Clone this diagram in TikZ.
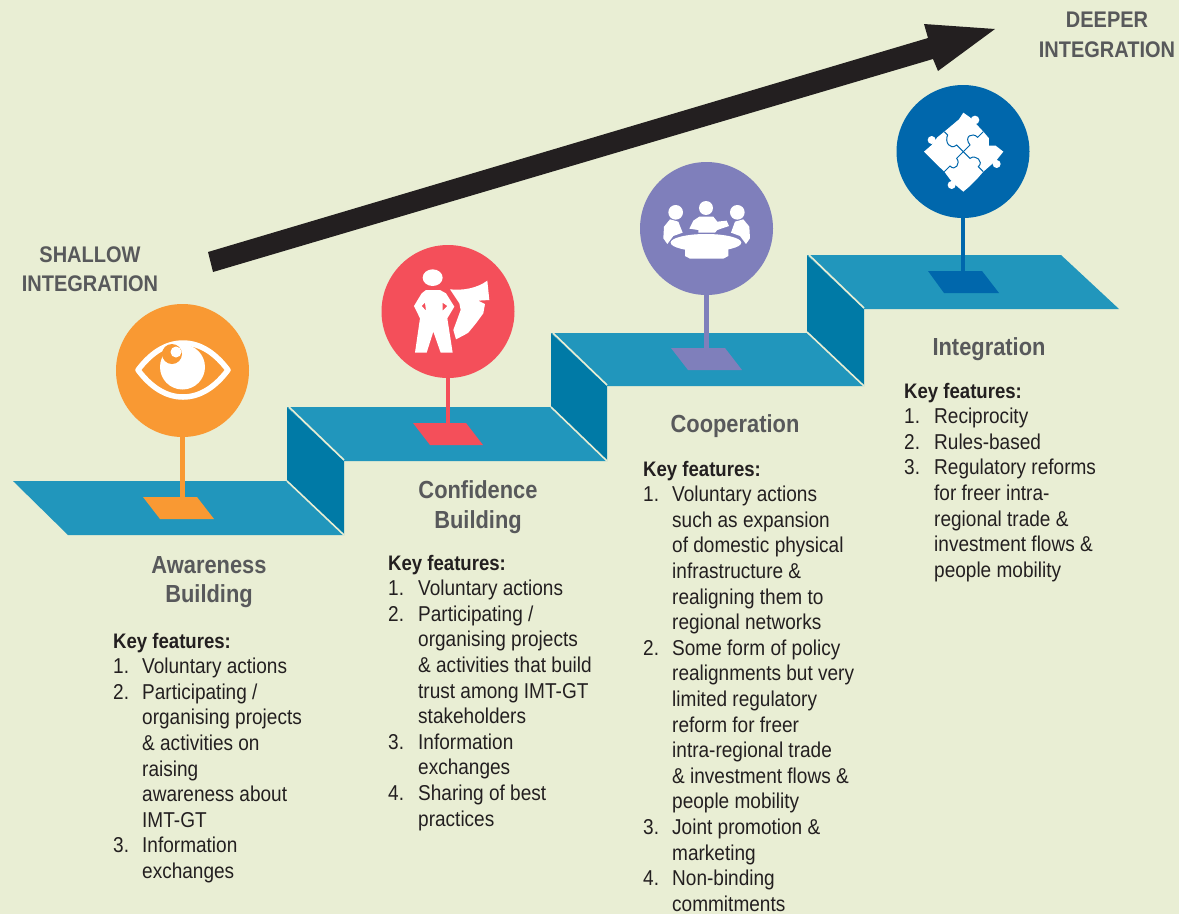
\documentclass[tikz,border=0pt]{standalone}
\usepackage{fontspec}
\setmainfont[FakeStretch=0.885]{Liberation Sans}
\usepackage{tikz}
\usetikzlibrary{calc}

\definecolor{paper}{RGB}{233,238,212}
\definecolor{topteal}{RGB}{33,150,188}
\definecolor{sideteal}{RGB}{0,122,166}
\definecolor{awareorange}{RGB}{249,153,51}
\definecolor{confidred}{RGB}{244,79,90}
\definecolor{cooppurple}{RGB}{127,127,187}
\definecolor{integblue}{RGB}{0,103,172}
\definecolor{headgrey}{RGB}{88,89,91}
\definecolor{bodyblack}{RGB}{35,31,32}

\newcommand{\bodyfont}{\fontsize{21.5}{25.6}\selectfont}
\newcommand{\headfont}{\fontsize{24.7}{29.5}\selectfont\bfseries}
\newcommand{\capsfont}{\fontsize{22.6}{29.5}\selectfont\bfseries}
\newcommand{\keyhead}{\fontsize{21}{25.6}\selectfont\bfseries Key features:}

\tikzset{
    platform/.style={fill=topteal},
    riser/.style={fill=sideteal},
    foldline/.style={draw=paper, line width=1.6pt},
    pincircle/.style={circle, minimum size=133pt, inner sep=0pt},
    pinstem/.style={line width=4.6pt},
    iconwhite/.style={fill=white},
    stagetitle/.style={font=\headfont, text=headgrey, align=center, inner sep=0pt},
    endtitle/.style={font=\capsfont, text=headgrey, align=center, inner sep=0pt},
    featurelist/.style={anchor=north west, font=\bodyfont, text=bodyblack, inner sep=0pt}
}

\begin{document}
\begin{tikzpicture}[x=1pt, y=-1pt]

    %% Background
    \fill [paper] (0,0) rectangle (1179,914);
    \useasboundingbox (0,0) rectangle (1179,914);

    %% Arrow
    \fill [bodyblack] (208,252) -- (928,38) -- (924,24) -- (995,29) -- (938,71) -- (933,59) -- (213,272) -- cycle;

    %% Steps
    \fill [riser] (287,407) -- (344,461) -- (344,535) -- (287,481) -- cycle;
    \fill [riser] (551,333) -- (607,386) -- (607,461) -- (551,407) -- cycle;
    \fill [riser] (807,255) -- (864,309) -- (864,386) -- (807,332) -- cycle;
    \fill [platform] (13,481) -- (287,481) -- (344,535) -- (68,535) -- cycle;
    \fill [platform] (287,407) -- (551,407) -- (607,461) -- (344,461) -- cycle;
    \fill [platform] (551,333) -- (807,333) -- (864,386) -- (607,386) -- cycle;
    \fill [platform] (807,255) -- (1061,255) -- (1119,309) -- (864,309) -- cycle;
    \draw [foldline] (287,481) -- (344,535);
    \draw [foldline] (289,407) -- (344,460);
    \draw [foldline] (551,407) -- (607,461);
    \draw [foldline] (553,333) -- (607,385);
    \draw [foldline] (807,332) -- (864,386);
    \draw [foldline] (809,255) -- (864,308);

    %% Pads
    \fill [awareorange] (143,497) -- (197,497) -- (214,519) -- (160,519) -- cycle;
    \fill [confidred] (413,423) -- (466,423) -- (483,445) -- (430,445) -- cycle;
    \fill [cooppurple] (671,348) -- (725,348) -- (742,370) -- (688,370) -- cycle;
    \fill [integblue] (928,271) -- (982,271) -- (999,293) -- (944,293) -- cycle;

    %% Circles
    \node (awareness) [pincircle, fill=awareorange] at (182.5,370.5) {};
    \node (confidence) [pincircle, fill=confidred] at (448,311.5) {};
    \node (cooperation) [pincircle, fill=cooppurple] at (706.5,228.5) {};
    \node (integration) [pincircle, fill=integblue] at (963,151.5) {};

    %% Pins
    \coordinate (awarenessfoot) at (182.5,498);
    \coordinate (confidencefoot) at (448,424);
    \coordinate (cooperationfoot) at (706.5,349);
    \coordinate (integrationfoot) at (963,272);
    \draw [pinstem, awareorange] (awareness) -- (awarenessfoot);
    \draw [pinstem, confidred] (confidence) -- (confidencefoot);
    \draw [pinstem, cooppurple] (cooperation) -- (cooperationfoot);
    \draw [pinstem, integblue] (integration) -- (integrationfoot);

    %% Eye
    \draw [white, line width=5.5pt, line join=round] (138,370) .. controls (150,354) and (165,343) .. (183,343) .. controls (201,343) and (216,354) .. (228,370) .. controls (216,386) and (201,397) .. (183,397) .. controls (165,397) and (150,386) .. (138,370) -- cycle;
    \fill [white] (182.5,367) circle (22.5);
    \fill [awareorange] (172,354) circle (10);
    \fill [awareorange] (168,345.5) rectangle (178,349);
    \fill [white] (176,352) circle (5.5);

    %% Hero
    \begin{scope}[shift={(370,260)}, scale=0.3333]
        \fill [iconwhite] (188,53) ellipse (30 and 25);
        \fill [iconwhite, even odd rule] (168,90) -- (210,90) -- (228,100) -- (253,140) -- (232,175) -- (248,278) -- (212,278) -- (190,215) -- (170,278) -- (135,278) -- (150,175) -- (132,138) -- (155,100) -- cycle
            (165,128) -- (168,152) -- (155,138) -- cycle
            (218,128) -- (218,152) -- (232,138) -- cycle;
        \fill [iconwhite] (240,88) .. controls (280,92) and (320,85) .. (352,62) -- (358,120) -- (325,122) -- (345,132) -- (340,160) -- (318,190) -- (295,218) -- (283,225) -- (258,238) -- (250,210) -- (272,150) -- (268,130) -- cycle;
    \end{scope}

    %% Meeting
    \begin{scope}[shift={(630,150)}, scale=0.3333]
        \fill [iconwhite] (137,187) circle (22);
        \fill [iconwhite] (228,174) circle (21);
        \fill [iconwhite] (322,187) circle (22);
        \fill [iconwhite] (120,208) -- (145,215) -- (158,248) -- (130,258) -- (112,282) -- (100,265) -- (102,230) -- cycle;
        \fill [iconwhite] (340,208) -- (315,215) -- (303,248) -- (330,258) -- (348,282) -- (360,265) -- (358,230) -- cycle;
        \fill [iconwhite] (208,200) -- (250,200) -- (262,215) -- (290,212) -- (297,228) -- (262,240) -- (255,248) -- (205,248) -- (205,240) -- (178,236) -- (190,212) -- cycle;
        \fill [iconwhite] (165,290) -- (295,290) -- (295,318) -- (280,326) -- (180,326) -- (165,318) -- cycle;
        \fill [iconwhite] (228,278) ellipse (106 and 26);
    \end{scope}

    %% Puzzle
    \begin{scope}[shift={(885,80)}, scale=0.3333]
        \fill [iconwhite] (178,155) -- (222,118) -- (235,98) -- (255,112) -- (295,155) -- (312,175) -- (312,197) -- (332,197) -- (355,215) -- (335,240) -- (295,275) -- (275,298) -- (255,318) -- (235,335) -- (215,318) -- (195,298) -- (178,275) -- (157,255) -- (117,215) -- (140,195) -- (157,172) -- cycle;
        \fill [iconwhite] (270,120) circle (13);
        \fill [iconwhite] (140,180) circle (12);
        \fill [iconwhite] (335,252) circle (12);
        \fill [iconwhite] (200,315) circle (12);
        \draw [integblue, line width=1pt] (178,155) -- (188,165) .. controls (178,185) and (195,212) .. (215,195) -- (255,235) .. controls (272,222) and (298,245) .. (280,260) -- (295,275);
        \draw [integblue, line width=1pt] (295,155) -- (278,172) .. controls (262,155) and (235,170) .. (255,195) -- (215,235) .. controls (228,250) and (210,275) .. (195,258) -- (178,275);
    \end{scope}

    %% Ends of the arrow
    \node (shallow) [endtitle] at (90,269) {SHALLOW\\INTEGRATION};
    \node (deeper) [endtitle] at (1107,35) {DEEPER\\INTEGRATION};

    %% Titles
    \node (awarenesstitle) [stagetitle] at (209,582) {Awareness\\Building};
    \node (confidencetitle) [stagetitle] at (478,507) {Confidence\\Building};
    \node (cooperationtitle) [stagetitle] at (735,426) {Cooperation};
    \node (integrationtitle) [stagetitle] at (989,349) {Integration};

    %% Key features
    \node (awarenesslist) [featurelist] at (113,630) {\begin{tabular}{@{}p{29pt}@{}l@{}}
        \multicolumn{2}{@{}l@{}}{\keyhead} \\
        1. & Voluntary actions \\
        2. & Participating / \\
           & organising projects \\
           & \& activities on \\
           & raising \\
           & awareness about \\
           & IMT-GT \\
        3. & Information \\
           & exchanges
    \end{tabular}};
    \node (confidencelist) [featurelist] at (388,552) {\begin{tabular}{@{}p{30pt}@{}l@{}}
        \multicolumn{2}{@{}l@{}}{\keyhead} \\
        1. & Voluntary actions \\
        2. & Participating / \\
           & organising projects \\
           & \& activities that build \\
           & trust among IMT-GT \\
           & stakeholders \\
        3. & Information \\
           & exchanges \\
        4. & Sharing of best \\
           & practices
    \end{tabular}};
    \node (cooperationlist) [featurelist] at (643,458) {\begin{tabular}{@{}p{29pt}@{}l@{}}
        \multicolumn{2}{@{}l@{}}{\keyhead} \\
        1. & Voluntary actions \\
           & such as expansion \\
           & of domestic physical \\
           & infrastructure \& \\
           & realigning them to \\
           & regional networks \\
        2. & Some form of policy \\
           & realignments but very \\
           & limited regulatory \\
           & reform for freer \\
           & intra-regional trade \\
           & \& investment flows \& \\
           & people mobility \\
        3. & Joint promotion \& \\
           & marketing \\
        4. & Non-binding \\
           & commitments
    \end{tabular}};
    \node (integrationlist) [featurelist] at (904,380) {\begin{tabular}{@{}p{30pt}@{}l@{}}
        \multicolumn{2}{@{}l@{}}{\keyhead} \\
        1. & Reciprocity \\
        2. & Rules-based \\
        3. & Regulatory reforms \\
           & for freer intra- \\
           & regional trade \& \\
           & investment flows \& \\
           & people mobility
    \end{tabular}};

\end{tikzpicture}
\end{document}
